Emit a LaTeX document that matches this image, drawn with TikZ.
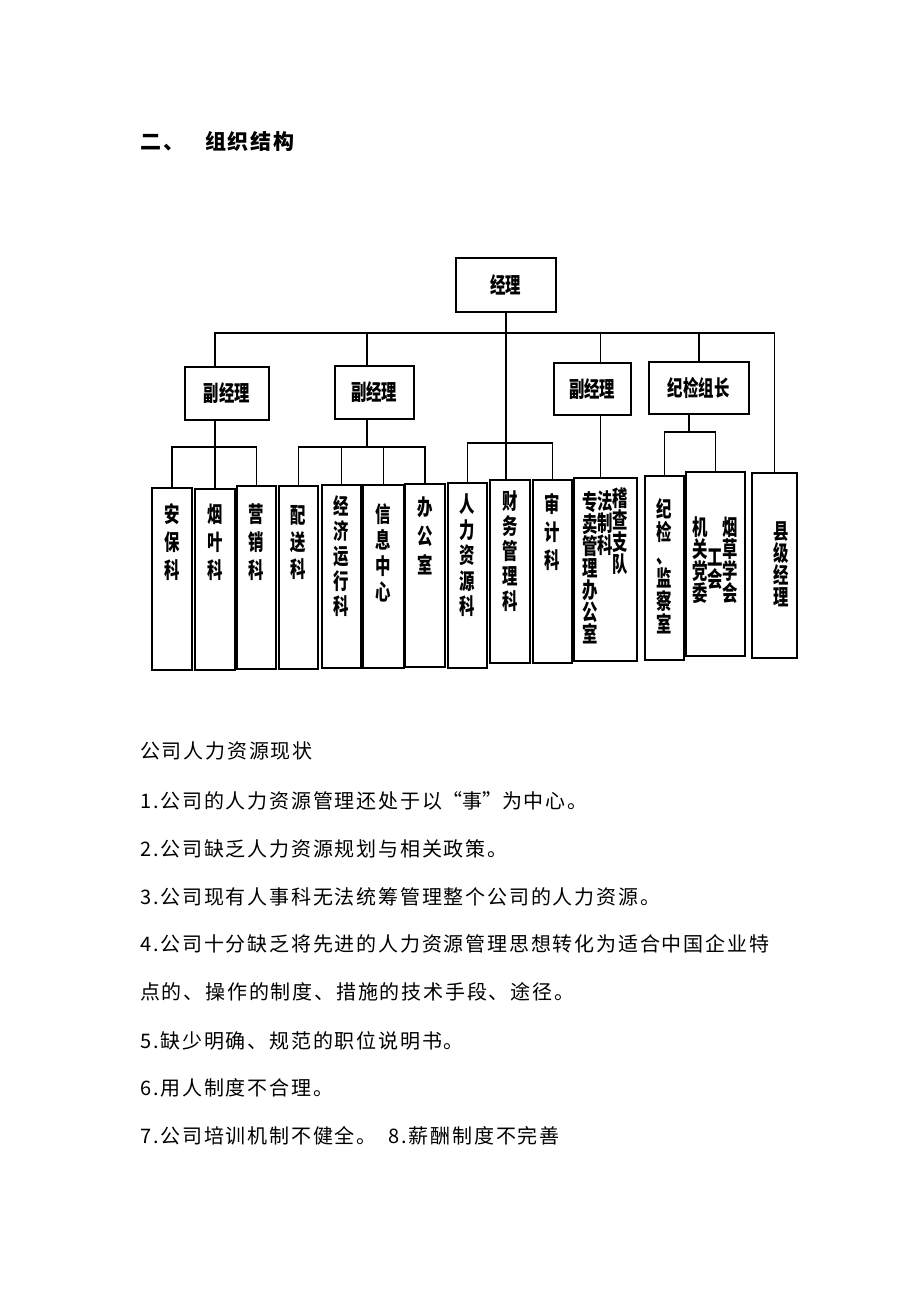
\documentclass[tikz,border=0pt]{standalone}
\usepackage{fontspec}
\setmainfont{Noto Sans CJK SC}
\newfontfamily\cjk{Noto Sans CJK SC}[LetterSpace=9]
\newfontfamily\chartfont{Noto Sans CJK SC}[FakeStretch=0.7]

% box text: [line skip]{width}{height}{top gap}{lines}
\newcommand{\vtxt}[5][25]{\parbox[c][#3][t]{#2}{\vspace*{#4}\centering\fontsize{22}{#1}\selectfont #5}}
% one column of a box with several columns
\newcommand{\vcol}[2][0pt]{\raisebox{-#1}{\parbox[t]{15pt}{\centering\fontsize{22}{22}\selectfont #2}}}
\newcommand{\qm}[1]{\makebox[20pt]{#1}}

\begin{document}
\begin{tikzpicture}[x=1pt, y=-1pt,
    head/.style={draw, line width=1.5pt, inner sep=0pt, anchor=north west,
      font=\chartfont\bfseries\fontsize{22}{24}\selectfont},
    dept/.style={draw, line width=1.5pt, inner sep=0pt, anchor=north west,
      font=\chartfont\bfseries},
    link/.style={line width=1.5pt},
    title/.style={anchor=base west, inner sep=0pt, font=\cjk\bfseries\fontsize{21}{25}\selectfont},
    body/.style={anchor=base west, inner sep=0pt, font=\cjk\fontsize{20}{24}\selectfont}]
  \fill[white] (0,0) rectangle (920,1302);
  \useasboundingbox (0,0) rectangle (920,1302);

  \node[title] (ttl) at (140,149) {二、\hspace{21pt}组织结构};

  % top level
  \node[head, minimum width=100pt, minimum height=54pt] (jl) at (455,257) {经理};
  \node[head, minimum width=84pt, minimum height=53pt] (fjl1) at (184,366) {副经理};
  \node[head, minimum width=79pt, minimum height=53pt] (fjl2) at (334,365) {副经理};
  \node[head, minimum width=77pt, minimum height=52pt] (fjl3) at (553,362) {副经理};
  \node[head, minimum width=100pt, minimum height=52pt] (jjzz) at (648,361) {纪检组长};

  % departments
  \node[dept] (abk) at (151,487) {\vtxt[28]{40pt}{182pt}{16pt}{安\\保\\科}};
  \node[dept] (yyk) at (194,488) {\vtxt[28]{40pt}{181pt}{15pt}{烟\\叶\\科}};
  \node[dept] (yxk) at (236,485) {\vtxt[28]{39pt}{183pt}{18pt}{营\\销\\科}};
  \node[dept] (psk) at (278,485) {\vtxt[27]{39pt}{183pt}{20pt}{配\\送\\科}};
  \node[dept] (jjk) at (321,484) {\vtxt[25]{39pt}{183pt}{11pt}{经\\济\\运\\行\\科}};
  \node[dept] (xxzx) at (362,484) {\vtxt[26]{41pt}{183pt}{19pt}{信\\息\\中\\心}};
  \node[dept] (bgs) at (404,483) {\vtxt[29]{40pt}{183pt}{13pt}{办\\公\\室}};
  \node[dept] (rlk) at (447,482) {\vtxt[25.5]{39pt}{185pt}{11pt}{人\\力\\资\\源\\科}};
  \node[dept] (cwk) at (489,479) {\vtxt[25]{40pt}{183pt}{11pt}{财\\务\\管\\理\\科}};
  \node[dept] (sjk) at (532,479) {\vtxt[28]{39pt}{183pt}{14pt}{审\\计\\科}};
  \node[dept] (jcd) at (573,477) {\vtxt{63pt}{183pt}{10pt}{\vcol[4pt]{专\\卖\\管\\理\\办\\公\\室}\vcol[3pt]{法\\制\\科}\vcol{稽\\查\\支\\队}}};
  \node[dept] (jjs) at (644,475) {\vtxt[23]{39pt}{184pt}{23pt}{纪\\检\\、\\监\\察\\室}};
  \node[dept] (jgdw) at (685,471) {\vtxt{59pt}{184pt}{45pt}{\vcol{机\\关\\党\\委}\vcol[30pt]{工\\会}\vcol{烟\\草\\学\\会}}};
  \node[dept] (xjjl) at (751,472) {\vtxt{45pt}{185pt}{49pt}{\hspace*{14pt}\vcol{县\\级\\经\\理}}};

  % connectors
  \coordinate (bus) at (505,333);
  \coordinate (b1) at (0,447);
  \coordinate (b3) at (0,443);
  \coordinate (b4) at (0,432);
  \draw[link] ([xshift=-12pt]fjl1.north) |- (bus) -| (xjjl.north);
  \draw[link] ([xshift=-7.5pt]fjl2.north) |- (bus);
  \draw[link] ([xshift=8pt]fjl3.north) |- (bus);
  \draw[link] (jjzz.north) |- (bus);
  \draw[link] (jl.south) -- (cwk.north -| jl.south);
  \draw[link] ([xshift=-12pt]fjl1.south) -- (yyk.north);
  \draw[link] (abk.north) |- (yxk.north |- b1) -- (yxk.north);
  \draw[link] ([xshift=-7.5pt]fjl2.south) |- (jjk.north |- b1);
  \draw[link] (psk.north) |- (bgs.north |- b1) -- (bgs.north);
  \draw[link] (jjk.north) -- (jjk.north |- b1);
  \draw[link] (xxzx.north) -- (xxzx.north |- b1);
  \draw[link] (rlk.north) |- (sjk.north |- b3) -- (sjk.north);
  \draw[link] ([xshift=8pt]fjl3.south) -- ([xshift=-5pt]jcd.north);
  \draw[link] ([xshift=-10pt]jjzz.south) |- (jgdw.north |- b4);
  \draw[link] (jjs.north) |- (jgdw.north |- b4) -- (jgdw.north);

  % text below the chart
  \node[body] (t0) at (140,758) {公司人力资源现状};
  \node[body] (t1) at (140,808) {1.公司的人力资源管理还处于以\qm{“}事\qm{”}为中心。};
  \node[body] (t2) at (140,856) {2.公司缺乏人力资源规划与相关政策。};
  \node[body] (t3) at (140,904) {3.公司现有人事科无法统筹管理整个公司的人力资源。};
  \node[body] (t4) at (140,951) {4.公司十分缺乏将先进的人力资源管理思想转化为适合中国企业特};
  \node[body] (t5) at (140,999) {点的、操作的制度、措施的技术手段、途径。};
  \node[body] (t6) at (140,1048) {5.缺少明确、规范的职位说明书。};
  \node[body] (t7) at (140,1095) {6.用人制度不合理。};
  \node[body] (t8) at (140,1143) {7.公司培训机制不健全。\hspace{12pt}8.薪酬制度不完善};
\end{tikzpicture}
\end{document}
